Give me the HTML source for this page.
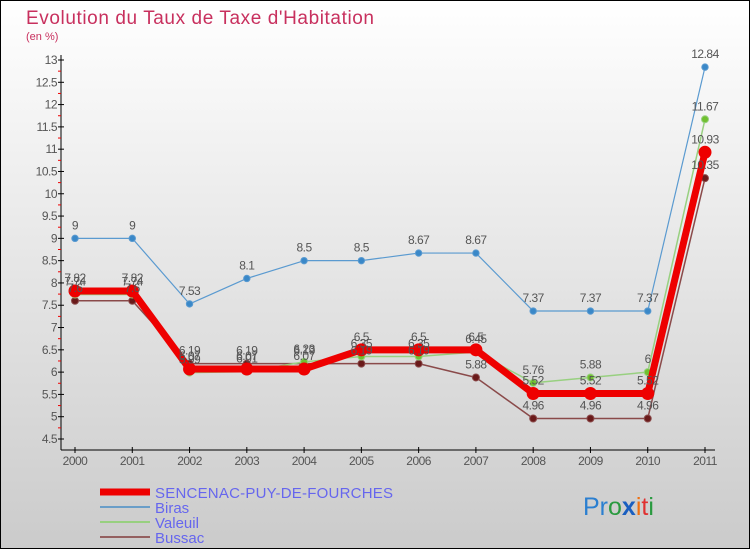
<!DOCTYPE html>
<html><head><meta charset="utf-8"><style>
body{margin:0;width:750px;height:550px;overflow:hidden;font-family:"Liberation Sans",sans-serif}
svg text{font-family:"Liberation Sans",sans-serif}
</style></head><body>
<svg id="c" width="750" height="550" xmlns="http://www.w3.org/2000/svg">
<defs><linearGradient id="bg" x1="0" y1="0" x2="0" y2="1"><stop offset="0" stop-color="#ffffff"/><stop offset="1" stop-color="#cbcbcb"/></linearGradient></defs>
<rect x="0.5" y="0.5" width="749" height="548" fill="url(#bg)" stroke="#000"/>
<text x="26" y="24" font-size="19" fill="#c8305e" textLength="348">Evolution du Taux de Taxe d'Habitation</text>
<text x="26" y="40" font-size="11" fill="#c8305e">(en %)</text>
<g id="axes"></g><g id="series"></g><g id="labels"></g>
<g>
<line x1="100" y1="492" x2="150" y2="492" stroke="#ee0000" stroke-width="7"/>
<text x="155" y="498" font-size="15" fill="#6666ee" textLength="238">SENCENAC-PUY-DE-FOURCHES</text>
<line x1="100" y1="507" x2="150" y2="507" stroke="#6a9ec8" stroke-width="2"/>
<text x="155" y="513" font-size="15" fill="#6666ee">Biras</text>
<line x1="100" y1="522" x2="150" y2="522" stroke="#98d080" stroke-width="2"/>
<text x="155" y="528" font-size="15" fill="#6666ee">Valeuil</text>
<line x1="100" y1="537" x2="150" y2="537" stroke="#946060" stroke-width="2"/>
<text x="155" y="543" font-size="15" fill="#6666ee">Bussac</text>
</g>
<text x="583" y="515" font-size="25"><tspan fill="#2b7fd0">Pr</tspan><tspan fill="#2a9a40">o</tspan><tspan fill="#1a5fc0" font-weight="bold">x</tspan><tspan fill="#f07010">i</tspan><tspan fill="#e03030">t</tspan><tspan fill="#2a9a40">i</tspan></text>
</svg>
<script>
const years=[2000,2001,2002,2003,2004,2005,2006,2007,2008,2009,2010,2011];
const sencenac=[7.82,7.82,6.07,6.07,6.07,6.5,6.5,6.5,5.52,5.52,5.52,10.93];
const biras=[9,9,7.53,8.1,8.5,8.5,8.67,8.67,7.37,7.37,7.37,12.84];
const valeuil=[7.74,7.74,5.99,6.01,6.23,6.35,6.35,6.45,5.76,5.88,6,11.67];
const bussac=[7.6,7.6,6.19,6.19,6.19,6.19,6.19,5.88,4.96,4.96,4.96,10.35];
const yTicks=[4.5,5,5.5,6,6.5,7,7.5,8,8.5,9,9.5,10,10.5,11,11.5,12,12.5,13];
const NS="http://www.w3.org/2000/svg";
function X(i){return 75+i*(705-75)/(years.length-1);}
function Y(v){return 439-(v-4.5)*(439-60)/(13-4.5);}
function mk(t,a,p){const e=document.createElementNS(NS,t);for(const k in a)e.setAttribute(k,a[k]);p.appendChild(e);return e;}
const ax=document.getElementById('axes'),sg=document.getElementById('series'),lg=document.getElementById('labels');
let l=mk('line',{x1:61,y1:55,x2:61,y2:450,stroke:'#000'},ax);


l=mk('line',{x1:61,y1:450,x2:715,y2:450,stroke:'#000'},ax);


yTicks.forEach(v=>{
 mk('line',{x1:58,y1:Y(v),x2:64,y2:Y(v),stroke:'#000'},ax);
 if(v<13)mk('line',{x1:58,y1:Y(v+0.25),x2:61,y2:Y(v+0.25),stroke:'#e00'},ax);
 const t=mk('text',{x:57,y:Y(v)+4,'font-size':12,fill:'#555','text-anchor':'end','letter-spacing':'-0.5'},ax);
 t.textContent=String(v);
 
 
});
years.forEach((y,i)=>{
 mk('line',{x1:X(i),y1:447,x2:X(i),y2:453,stroke:'#000'},ax);
 const t=mk('text',{x:X(i),y:465,'font-size':12,fill:'#555','text-anchor':'middle','letter-spacing':'-0.5'},ax);
 t.textContent=String(y);
 
 
});
function series(d,name,color,w,r,dot){
 const pts=d.map((v,i)=>X(i)+','+Y(v)).join(' ');
 const p=mk('polyline',{points:pts,fill:'none',stroke:color,'stroke-width':w,'stroke-linejoin':'round'},sg);
 
 
 d.forEach((v,i)=>{
  const c=mk('circle',{cx:X(i),cy:Y(v),r:r,fill:dot,stroke:color,'stroke-width':1},sg);
  
  
  const t=mk('text',{x:X(i),y:Y(v)-9,'font-size':12,fill:'#555','text-anchor':'middle','letter-spacing':'-0.5'},lg);
  t.textContent=String(v);
  
  
 });
}
series(bussac,'bussac','#8a4a4a',1.5,3.5,'#6a1a1a');
series(valeuil,'valeuil','#98d080',1.5,3.5,'#70c030');
series(biras,'biras','#5a9ad0',1.2,3.2,'#3a88c8');
series(sencenac,'sencenac','#ee0000',7,6,'#ee0000');
</script>
</body></html>
